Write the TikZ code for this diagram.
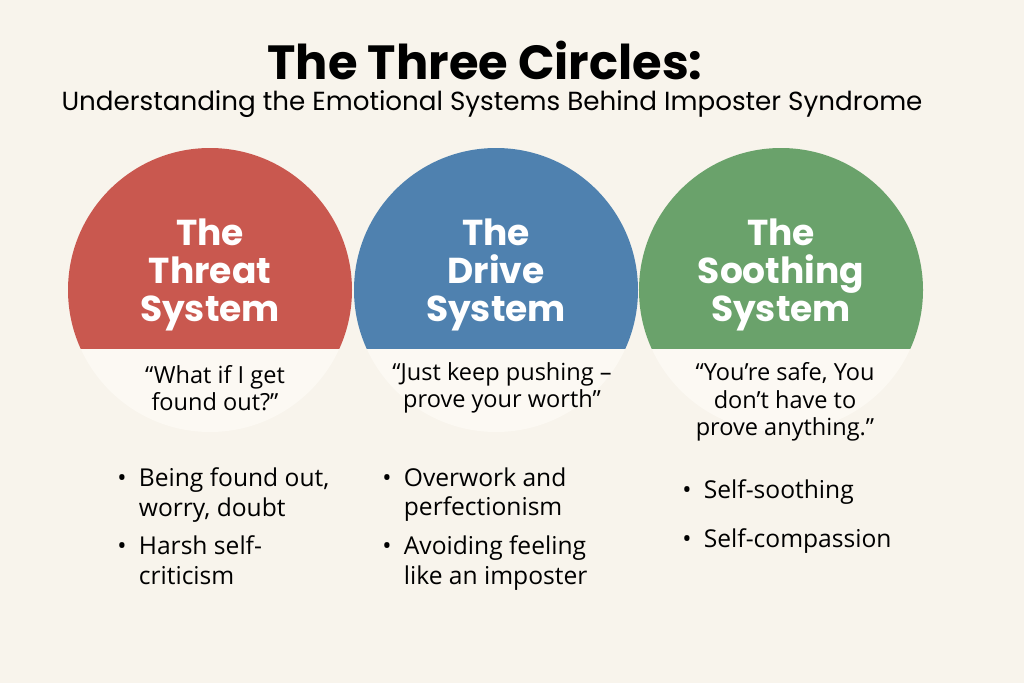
\documentclass[tikz,border=0pt]{standalone}
\usepackage{fontspec}
\setmainfont{Open Sans}
\newfontfamily\headfont{Poppins}
\definecolor{paper}{HTML}{F8F4EC}
\definecolor{lowpart}{HTML}{FCF9F3}
\definecolor{threatred}{HTML}{C9584F}
\definecolor{driveblue}{HTML}{4F81AF}
\definecolor{soothegreen}{HTML}{6AA26B}
\tikzset{
	circtitle/.style={text=white, align=center, font=\headfont\bfseries\fontsize{20.5}{21.8}\selectfont},
	quote/.style={align=center, font=\fontsize{13.4}{15.5}\selectfont},
	bulletlist/.style={align=left, anchor=north west, font=\fontsize{14}{17}\selectfont, inner sep=0pt}
}
\begin{document}
\begin{tikzpicture}[x=0.02cm,y=-0.02cm]
			\fill[paper] (0,0) rectangle (1024,683);
			\useasboundingbox (0,0) rectangle (1024,683);

			\node[font=\headfont\bfseries\fontsize{27.3}{30}\selectfont] (title) at (485,60) {The Three Circles:};
			\node[font=\headfont\fontsize{14.9}{16}\selectfont] (subtitle) at (492,104) {Understanding the Emotional Systems Behind Imposter Syndrome};

			% circles
			\fill[lowpart] (210,290) circle (142);
			\fill[lowpart] (496,290) circle (142);
			\fill[lowpart] (781,290) circle (142);
			\begin{scope}
				\clip (0,0) rectangle (1024,348);
				\fill[threatred] (210,290) circle (142);
				\fill[driveblue] (496,290) circle (142);
				\fill[soothegreen] (781,290) circle (142);
			\end{scope}

			\node[circtitle] (threat) at (210,275) {The\\Threat\\System};
			\node[circtitle] (drive) at (496,275) {The\\Drive\\System};
			\node[circtitle] (soothe) at (781,275) {The\\Soothing\\System};

			\node[quote] (threatq) at (215,388) {“What if I get\\found out?”};
			\node[quote] (driveq) at (502,388) {“Just keep pushing –\\prove your worth”};
			\node[quote] (sootheq) at (785,402) {“You’re safe, You\\don’t have to\\prove anything.”};

			%
			\node[bulletlist] (threatb) at (117,467) {\textbullet\enspace Being found out,\\\phantom{\textbullet\enspace}worry, doubt\\[5pt]\textbullet\enspace Harsh self-\\\phantom{\textbullet\enspace}criticism};
			\node[bulletlist] (driveb) at (382,467) {\textbullet\enspace Overwork and\\\phantom{\textbullet\enspace}perfectionism\\[5pt]\textbullet\enspace Avoiding feeling\\\phantom{\textbullet\enspace}like an imposter};
			\node[bulletlist] (sootheb) at (682,479) {\textbullet\enspace Self-soothing\\[11pt]\textbullet\enspace Self-compassion};
		\end{tikzpicture}
\end{document}
